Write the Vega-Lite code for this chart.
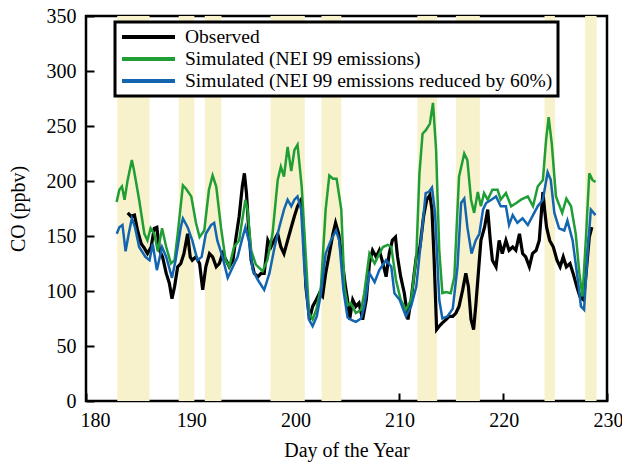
{
  "$schema": "https://vega.github.io/schema/vega-lite/v6.json",
  "width": 521,
  "height": 385,
  "autosize": {"type": "none"},
  "padding": {"left": 86, "top": 16, "right": 15, "bottom": 65},
  "background": "white",
  "config": {
    "font": "Liberation Serif",
    "view": {"stroke": "black", "strokeWidth": 2.5},
    "axis": {
      "grid": false,
      "domain": false,
      "ticks": true,
      "tickColor": "black",
      "tickWidth": 2,
      "tickSize": -8,
      "labelFont": "Liberation Serif",
      "labelFontSize": 20,
      "labelColor": "black",
      "titleFont": "Liberation Serif",
      "titleFontSize": 20,
      "titleFontWeight": "normal",
      "titleColor": "black"
    }
  },
  "datasets": {
    "bands": [
      {"start": 183.0, "end": 186.1},
      {"start": 188.9, "end": 190.4},
      {"start": 191.4, "end": 193.0},
      {"start": 197.7, "end": 201.0},
      {"start": 202.6, "end": 204.5},
      {"start": 211.8, "end": 213.7},
      {"start": 215.5, "end": 217.8},
      {"start": 224.0, "end": 225.0},
      {"start": 227.9, "end": 229.0}
    ],
    "observed": [
      {"series": "Observed", "day": 184.0, "co": 171}, {"series": "Observed", "day": 184.3, "co": 168},
      {"series": "Observed", "day": 184.65, "co": 169}, {"series": "Observed", "day": 184.95, "co": 155},
      {"series": "Observed", "day": 185.3, "co": 143}, {"series": "Observed", "day": 185.6, "co": 139},
      {"series": "Observed", "day": 185.9, "co": 134}, {"series": "Observed", "day": 186.25, "co": 140},
      {"series": "Observed", "day": 186.55, "co": 157}, {"series": "Observed", "day": 186.8, "co": 158},
      {"series": "Observed", "day": 187.05, "co": 137}, {"series": "Observed", "day": 187.35, "co": 131},
      {"series": "Observed", "day": 187.7, "co": 116}, {"series": "Observed", "day": 188.0, "co": 107},
      {"series": "Observed", "day": 188.25, "co": 93}, {"series": "Observed", "day": 188.5, "co": 104},
      {"series": "Observed", "day": 188.8, "co": 122}, {"series": "Observed", "day": 189.1, "co": 125},
      {"series": "Observed", "day": 189.4, "co": 134}, {"series": "Observed", "day": 189.75, "co": 152},
      {"series": "Observed", "day": 190.0, "co": 131}, {"series": "Observed", "day": 190.2, "co": 128},
      {"series": "Observed", "day": 190.55, "co": 131}, {"series": "Observed", "day": 190.9, "co": 125},
      {"series": "Observed", "day": 191.2, "co": 101}, {"series": "Observed", "day": 191.5, "co": 122},
      {"series": "Observed", "day": 191.85, "co": 134}, {"series": "Observed", "day": 192.15, "co": 131},
      {"series": "Observed", "day": 192.5, "co": 122}, {"series": "Observed", "day": 192.8, "co": 125},
      {"series": "Observed", "day": 193.1, "co": 134}, {"series": "Observed", "day": 193.45, "co": 128},
      {"series": "Observed", "day": 193.75, "co": 122}, {"series": "Observed", "day": 194.1, "co": 128},
      {"series": "Observed", "day": 194.4, "co": 149}, {"series": "Observed", "day": 194.7, "co": 168},
      {"series": "Observed", "day": 195.0, "co": 195}, {"series": "Observed", "day": 195.2, "co": 207},
      {"series": "Observed", "day": 195.4, "co": 189}, {"series": "Observed", "day": 195.6, "co": 158},
      {"series": "Observed", "day": 195.85, "co": 128}, {"series": "Observed", "day": 196.15, "co": 116},
      {"series": "Observed", "day": 196.5, "co": 113}, {"series": "Observed", "day": 196.8, "co": 116},
      {"series": "Observed", "day": 197.1, "co": 116}, {"series": "Observed", "day": 197.45, "co": 146},
      {"series": "Observed", "day": 197.75, "co": 140}, {"series": "Observed", "day": 198.05, "co": 146},
      {"series": "Observed", "day": 198.4, "co": 152}, {"series": "Observed", "day": 198.7, "co": 140},
      {"series": "Observed", "day": 199.0, "co": 134}, {"series": "Observed", "day": 199.35, "co": 146},
      {"series": "Observed", "day": 199.7, "co": 158}, {"series": "Observed", "day": 200.0, "co": 168},
      {"series": "Observed", "day": 200.3, "co": 177}, {"series": "Observed", "day": 200.65, "co": 183},
      {"series": "Observed", "day": 200.85, "co": 158}, {"series": "Observed", "day": 201.1, "co": 104},
      {"series": "Observed", "day": 201.45, "co": 74}, {"series": "Observed", "day": 201.75, "co": 86},
      {"series": "Observed", "day": 202.1, "co": 92}, {"series": "Observed", "day": 202.4, "co": 98},
      {"series": "Observed", "day": 202.7, "co": 95}, {"series": "Observed", "day": 203.0, "co": 116},
      {"series": "Observed", "day": 203.35, "co": 134}, {"series": "Observed", "day": 203.7, "co": 152},
      {"series": "Observed", "day": 203.95, "co": 162}, {"series": "Observed", "day": 204.25, "co": 152},
      {"series": "Observed", "day": 204.55, "co": 131}, {"series": "Observed", "day": 204.9, "co": 104},
      {"series": "Observed", "day": 205.1, "co": 92}, {"series": "Observed", "day": 205.3, "co": 74},
      {"series": "Observed", "day": 205.6, "co": 92}, {"series": "Observed", "day": 205.9, "co": 86},
      {"series": "Observed", "day": 206.2, "co": 89}, {"series": "Observed", "day": 206.55, "co": 74},
      {"series": "Observed", "day": 206.9, "co": 92}, {"series": "Observed", "day": 207.2, "co": 125},
      {"series": "Observed", "day": 207.5, "co": 137}, {"series": "Observed", "day": 207.85, "co": 131},
      {"series": "Observed", "day": 208.15, "co": 137}, {"series": "Observed", "day": 208.5, "co": 125},
      {"series": "Observed", "day": 208.8, "co": 113}, {"series": "Observed", "day": 209.1, "co": 134},
      {"series": "Observed", "day": 209.4, "co": 146}, {"series": "Observed", "day": 209.7, "co": 149},
      {"series": "Observed", "day": 209.9, "co": 131}, {"series": "Observed", "day": 210.2, "co": 113},
      {"series": "Observed", "day": 210.55, "co": 98}, {"series": "Observed", "day": 210.9, "co": 74},
      {"series": "Observed", "day": 211.2, "co": 92}, {"series": "Observed", "day": 211.5, "co": 116},
      {"series": "Observed", "day": 211.7, "co": 131}, {"series": "Observed", "day": 212.05, "co": 140},
      {"series": "Observed", "day": 212.4, "co": 168}, {"series": "Observed", "day": 212.7, "co": 183},
      {"series": "Observed", "day": 213.0, "co": 187}, {"series": "Observed", "day": 213.2, "co": 174},
      {"series": "Observed", "day": 213.4, "co": 131}, {"series": "Observed", "day": 213.65, "co": 65},
      {"series": "Observed", "day": 213.9, "co": 68}, {"series": "Observed", "day": 214.2, "co": 71},
      {"series": "Observed", "day": 214.55, "co": 74}, {"series": "Observed", "day": 214.85, "co": 77},
      {"series": "Observed", "day": 215.2, "co": 77}, {"series": "Observed", "day": 215.5, "co": 80},
      {"series": "Observed", "day": 215.8, "co": 86}, {"series": "Observed", "day": 216.15, "co": 101},
      {"series": "Observed", "day": 216.45, "co": 116}, {"series": "Observed", "day": 216.7, "co": 104},
      {"series": "Observed", "day": 216.95, "co": 74}, {"series": "Observed", "day": 217.2, "co": 65},
      {"series": "Observed", "day": 217.4, "co": 86}, {"series": "Observed", "day": 217.7, "co": 122},
      {"series": "Observed", "day": 217.9, "co": 146}, {"series": "Observed", "day": 218.25, "co": 158},
      {"series": "Observed", "day": 218.55, "co": 174}, {"series": "Observed", "day": 218.8, "co": 146},
      {"series": "Observed", "day": 219.0, "co": 128}, {"series": "Observed", "day": 219.35, "co": 122},
      {"series": "Observed", "day": 219.65, "co": 146}, {"series": "Observed", "day": 219.95, "co": 134},
      {"series": "Observed", "day": 220.3, "co": 146}, {"series": "Observed", "day": 220.6, "co": 137},
      {"series": "Observed", "day": 220.95, "co": 140}, {"series": "Observed", "day": 221.25, "co": 137},
      {"series": "Observed", "day": 221.6, "co": 152}, {"series": "Observed", "day": 221.9, "co": 134},
      {"series": "Observed", "day": 222.2, "co": 131}, {"series": "Observed", "day": 222.55, "co": 122},
      {"series": "Observed", "day": 222.85, "co": 134}, {"series": "Observed", "day": 223.2, "co": 137},
      {"series": "Observed", "day": 223.5, "co": 146}, {"series": "Observed", "day": 223.85, "co": 190},
      {"series": "Observed", "day": 224.0, "co": 175}, {"series": "Observed", "day": 224.2, "co": 158},
      {"series": "Observed", "day": 224.5, "co": 146}, {"series": "Observed", "day": 224.85, "co": 140},
      {"series": "Observed", "day": 225.2, "co": 128}, {"series": "Observed", "day": 225.5, "co": 122},
      {"series": "Observed", "day": 225.8, "co": 131}, {"series": "Observed", "day": 226.1, "co": 122},
      {"series": "Observed", "day": 226.45, "co": 125}, {"series": "Observed", "day": 226.75, "co": 116},
      {"series": "Observed", "day": 227.1, "co": 104}, {"series": "Observed", "day": 227.4, "co": 95},
      {"series": "Observed", "day": 227.75, "co": 92}, {"series": "Observed", "day": 228.05, "co": 122},
      {"series": "Observed", "day": 228.3, "co": 149}, {"series": "Observed", "day": 228.55, "co": 158}
    ],
    "nei99": [
      {"series": "Simulated (NEI 99 emissions)", "day": 182.94, "co": 181}, {"series": "Simulated (NEI 99 emissions)", "day": 183.2, "co": 192},
      {"series": "Simulated (NEI 99 emissions)", "day": 183.45, "co": 195}, {"series": "Simulated (NEI 99 emissions)", "day": 183.7, "co": 183},
      {"series": "Simulated (NEI 99 emissions)", "day": 184.0, "co": 201}, {"series": "Simulated (NEI 99 emissions)", "day": 184.4, "co": 219},
      {"series": "Simulated (NEI 99 emissions)", "day": 184.6, "co": 210}, {"series": "Simulated (NEI 99 emissions)", "day": 185.1, "co": 183},
      {"series": "Simulated (NEI 99 emissions)", "day": 185.6, "co": 152}, {"series": "Simulated (NEI 99 emissions)", "day": 185.9, "co": 146},
      {"series": "Simulated (NEI 99 emissions)", "day": 186.2, "co": 157}, {"series": "Simulated (NEI 99 emissions)", "day": 186.55, "co": 152},
      {"series": "Simulated (NEI 99 emissions)", "day": 186.9, "co": 136}, {"series": "Simulated (NEI 99 emissions)", "day": 187.3, "co": 157},
      {"series": "Simulated (NEI 99 emissions)", "day": 187.7, "co": 140}, {"series": "Simulated (NEI 99 emissions)", "day": 188.15, "co": 125},
      {"series": "Simulated (NEI 99 emissions)", "day": 188.5, "co": 128}, {"series": "Simulated (NEI 99 emissions)", "day": 188.8, "co": 152},
      {"series": "Simulated (NEI 99 emissions)", "day": 189.3, "co": 196}, {"series": "Simulated (NEI 99 emissions)", "day": 189.6, "co": 193},
      {"series": "Simulated (NEI 99 emissions)", "day": 190.1, "co": 186}, {"series": "Simulated (NEI 99 emissions)", "day": 190.55, "co": 162},
      {"series": "Simulated (NEI 99 emissions)", "day": 190.9, "co": 149}, {"series": "Simulated (NEI 99 emissions)", "day": 191.35, "co": 155},
      {"series": "Simulated (NEI 99 emissions)", "day": 191.8, "co": 192}, {"series": "Simulated (NEI 99 emissions)", "day": 192.15, "co": 205},
      {"series": "Simulated (NEI 99 emissions)", "day": 192.5, "co": 195}, {"series": "Simulated (NEI 99 emissions)", "day": 192.95, "co": 158},
      {"series": "Simulated (NEI 99 emissions)", "day": 193.4, "co": 128}, {"series": "Simulated (NEI 99 emissions)", "day": 193.75, "co": 122},
      {"series": "Simulated (NEI 99 emissions)", "day": 194.2, "co": 140}, {"series": "Simulated (NEI 99 emissions)", "day": 194.7, "co": 146},
      {"series": "Simulated (NEI 99 emissions)", "day": 195.0, "co": 165}, {"series": "Simulated (NEI 99 emissions)", "day": 195.3, "co": 183},
      {"series": "Simulated (NEI 99 emissions)", "day": 195.5, "co": 174}, {"series": "Simulated (NEI 99 emissions)", "day": 195.85, "co": 137},
      {"series": "Simulated (NEI 99 emissions)", "day": 196.3, "co": 124}, {"series": "Simulated (NEI 99 emissions)", "day": 196.95, "co": 118},
      {"series": "Simulated (NEI 99 emissions)", "day": 197.4, "co": 128}, {"series": "Simulated (NEI 99 emissions)", "day": 197.9, "co": 152},
      {"series": "Simulated (NEI 99 emissions)", "day": 198.4, "co": 201}, {"series": "Simulated (NEI 99 emissions)", "day": 198.7, "co": 213},
      {"series": "Simulated (NEI 99 emissions)", "day": 199.0, "co": 204}, {"series": "Simulated (NEI 99 emissions)", "day": 199.35, "co": 231},
      {"series": "Simulated (NEI 99 emissions)", "day": 199.7, "co": 209}, {"series": "Simulated (NEI 99 emissions)", "day": 200.0, "co": 228},
      {"series": "Simulated (NEI 99 emissions)", "day": 200.3, "co": 233}, {"series": "Simulated (NEI 99 emissions)", "day": 200.7, "co": 195},
      {"series": "Simulated (NEI 99 emissions)", "day": 201.1, "co": 131}, {"series": "Simulated (NEI 99 emissions)", "day": 201.4, "co": 80},
      {"series": "Simulated (NEI 99 emissions)", "day": 201.75, "co": 74}, {"series": "Simulated (NEI 99 emissions)", "day": 202.1, "co": 83},
      {"series": "Simulated (NEI 99 emissions)", "day": 202.55, "co": 104}, {"series": "Simulated (NEI 99 emissions)", "day": 203.0, "co": 174},
      {"series": "Simulated (NEI 99 emissions)", "day": 203.35, "co": 205}, {"series": "Simulated (NEI 99 emissions)", "day": 203.7, "co": 202},
      {"series": "Simulated (NEI 99 emissions)", "day": 204.05, "co": 202}, {"series": "Simulated (NEI 99 emissions)", "day": 204.5, "co": 174},
      {"series": "Simulated (NEI 99 emissions)", "day": 204.8, "co": 104}, {"series": "Simulated (NEI 99 emissions)", "day": 205.1, "co": 87},
      {"series": "Simulated (NEI 99 emissions)", "day": 205.4, "co": 89}, {"series": "Simulated (NEI 99 emissions)", "day": 205.9, "co": 80},
      {"series": "Simulated (NEI 99 emissions)", "day": 206.4, "co": 83}, {"series": "Simulated (NEI 99 emissions)", "day": 206.7, "co": 98},
      {"series": "Simulated (NEI 99 emissions)", "day": 207.2, "co": 134}, {"series": "Simulated (NEI 99 emissions)", "day": 207.7, "co": 125},
      {"series": "Simulated (NEI 99 emissions)", "day": 208.0, "co": 131}, {"series": "Simulated (NEI 99 emissions)", "day": 208.5, "co": 140},
      {"series": "Simulated (NEI 99 emissions)", "day": 208.95, "co": 142}, {"series": "Simulated (NEI 99 emissions)", "day": 209.3, "co": 140},
      {"series": "Simulated (NEI 99 emissions)", "day": 209.75, "co": 110}, {"series": "Simulated (NEI 99 emissions)", "day": 210.2, "co": 92},
      {"series": "Simulated (NEI 99 emissions)", "day": 210.7, "co": 83}, {"series": "Simulated (NEI 99 emissions)", "day": 211.2, "co": 92},
      {"series": "Simulated (NEI 99 emissions)", "day": 211.7, "co": 131}, {"series": "Simulated (NEI 99 emissions)", "day": 212.0, "co": 207},
      {"series": "Simulated (NEI 99 emissions)", "day": 212.3, "co": 243}, {"series": "Simulated (NEI 99 emissions)", "day": 212.6, "co": 246},
      {"series": "Simulated (NEI 99 emissions)", "day": 213.0, "co": 252}, {"series": "Simulated (NEI 99 emissions)", "day": 213.3, "co": 271},
      {"series": "Simulated (NEI 99 emissions)", "day": 213.6, "co": 228}, {"series": "Simulated (NEI 99 emissions)", "day": 213.9, "co": 137},
      {"series": "Simulated (NEI 99 emissions)", "day": 214.2, "co": 98}, {"series": "Simulated (NEI 99 emissions)", "day": 214.55, "co": 99},
      {"series": "Simulated (NEI 99 emissions)", "day": 215.0, "co": 98}, {"series": "Simulated (NEI 99 emissions)", "day": 215.35, "co": 113},
      {"series": "Simulated (NEI 99 emissions)", "day": 215.8, "co": 204}, {"series": "Simulated (NEI 99 emissions)", "day": 216.3, "co": 225},
      {"series": "Simulated (NEI 99 emissions)", "day": 216.6, "co": 219}, {"series": "Simulated (NEI 99 emissions)", "day": 216.95, "co": 183},
      {"series": "Simulated (NEI 99 emissions)", "day": 217.25, "co": 171}, {"series": "Simulated (NEI 99 emissions)", "day": 217.6, "co": 190},
      {"series": "Simulated (NEI 99 emissions)", "day": 217.9, "co": 177}, {"series": "Simulated (NEI 99 emissions)", "day": 218.2, "co": 189},
      {"series": "Simulated (NEI 99 emissions)", "day": 218.55, "co": 183}, {"series": "Simulated (NEI 99 emissions)", "day": 219.0, "co": 192},
      {"series": "Simulated (NEI 99 emissions)", "day": 219.5, "co": 192}, {"series": "Simulated (NEI 99 emissions)", "day": 219.8, "co": 183},
      {"series": "Simulated (NEI 99 emissions)", "day": 220.3, "co": 189}, {"series": "Simulated (NEI 99 emissions)", "day": 220.8, "co": 177},
      {"series": "Simulated (NEI 99 emissions)", "day": 221.3, "co": 180}, {"series": "Simulated (NEI 99 emissions)", "day": 221.75, "co": 183},
      {"series": "Simulated (NEI 99 emissions)", "day": 222.4, "co": 186}, {"series": "Simulated (NEI 99 emissions)", "day": 222.9, "co": 177},
      {"series": "Simulated (NEI 99 emissions)", "day": 223.35, "co": 195}, {"series": "Simulated (NEI 99 emissions)", "day": 223.85, "co": 201},
      {"series": "Simulated (NEI 99 emissions)", "day": 224.15, "co": 237}, {"series": "Simulated (NEI 99 emissions)", "day": 224.4, "co": 258},
      {"series": "Simulated (NEI 99 emissions)", "day": 224.7, "co": 234}, {"series": "Simulated (NEI 99 emissions)", "day": 225.1, "co": 186},
      {"series": "Simulated (NEI 99 emissions)", "day": 225.7, "co": 171}, {"series": "Simulated (NEI 99 emissions)", "day": 226.1, "co": 184},
      {"series": "Simulated (NEI 99 emissions)", "day": 226.55, "co": 177}, {"series": "Simulated (NEI 99 emissions)", "day": 227.0, "co": 152},
      {"series": "Simulated (NEI 99 emissions)", "day": 227.35, "co": 116}, {"series": "Simulated (NEI 99 emissions)", "day": 227.65, "co": 95},
      {"series": "Simulated (NEI 99 emissions)", "day": 228.0, "co": 152}, {"series": "Simulated (NEI 99 emissions)", "day": 228.3, "co": 207},
      {"series": "Simulated (NEI 99 emissions)", "day": 228.6, "co": 201}, {"series": "Simulated (NEI 99 emissions)", "day": 228.9, "co": 199}
    ],
    "nei99cut": [
      {"series": "Simulated (NEI 99 emissions reduced by 60%)", "day": 182.95, "co": 152}, {"series": "Simulated (NEI 99 emissions reduced by 60%)", "day": 183.2, "co": 158},
      {"series": "Simulated (NEI 99 emissions reduced by 60%)", "day": 183.5, "co": 160}, {"series": "Simulated (NEI 99 emissions reduced by 60%)", "day": 183.8, "co": 136},
      {"series": "Simulated (NEI 99 emissions reduced by 60%)", "day": 184.1, "co": 152}, {"series": "Simulated (NEI 99 emissions reduced by 60%)", "day": 184.4, "co": 166},
      {"series": "Simulated (NEI 99 emissions reduced by 60%)", "day": 184.7, "co": 158}, {"series": "Simulated (NEI 99 emissions reduced by 60%)", "day": 185.1, "co": 140},
      {"series": "Simulated (NEI 99 emissions reduced by 60%)", "day": 185.7, "co": 131}, {"series": "Simulated (NEI 99 emissions reduced by 60%)", "day": 186.1, "co": 128},
      {"series": "Simulated (NEI 99 emissions reduced by 60%)", "day": 186.4, "co": 143}, {"series": "Simulated (NEI 99 emissions reduced by 60%)", "day": 186.8, "co": 119},
      {"series": "Simulated (NEI 99 emissions reduced by 60%)", "day": 187.3, "co": 140}, {"series": "Simulated (NEI 99 emissions reduced by 60%)", "day": 187.7, "co": 131},
      {"series": "Simulated (NEI 99 emissions reduced by 60%)", "day": 188.25, "co": 112}, {"series": "Simulated (NEI 99 emissions reduced by 60%)", "day": 188.6, "co": 128},
      {"series": "Simulated (NEI 99 emissions reduced by 60%)", "day": 189.1, "co": 158}, {"series": "Simulated (NEI 99 emissions reduced by 60%)", "day": 189.3, "co": 166},
      {"series": "Simulated (NEI 99 emissions reduced by 60%)", "day": 189.75, "co": 158}, {"series": "Simulated (NEI 99 emissions reduced by 60%)", "day": 190.2, "co": 146},
      {"series": "Simulated (NEI 99 emissions reduced by 60%)", "day": 190.7, "co": 128}, {"series": "Simulated (NEI 99 emissions reduced by 60%)", "day": 191.1, "co": 131},
      {"series": "Simulated (NEI 99 emissions reduced by 60%)", "day": 191.5, "co": 152}, {"series": "Simulated (NEI 99 emissions reduced by 60%)", "day": 192.0, "co": 160},
      {"series": "Simulated (NEI 99 emissions reduced by 60%)", "day": 192.3, "co": 162}, {"series": "Simulated (NEI 99 emissions reduced by 60%)", "day": 192.6, "co": 146},
      {"series": "Simulated (NEI 99 emissions reduced by 60%)", "day": 193.1, "co": 131}, {"series": "Simulated (NEI 99 emissions reduced by 60%)", "day": 193.6, "co": 112},
      {"series": "Simulated (NEI 99 emissions reduced by 60%)", "day": 194.1, "co": 122}, {"series": "Simulated (NEI 99 emissions reduced by 60%)", "day": 194.55, "co": 131},
      {"series": "Simulated (NEI 99 emissions reduced by 60%)", "day": 194.95, "co": 146}, {"series": "Simulated (NEI 99 emissions reduced by 60%)", "day": 195.3, "co": 158},
      {"series": "Simulated (NEI 99 emissions reduced by 60%)", "day": 195.7, "co": 143}, {"series": "Simulated (NEI 99 emissions reduced by 60%)", "day": 196.0, "co": 119},
      {"series": "Simulated (NEI 99 emissions reduced by 60%)", "day": 196.5, "co": 110}, {"series": "Simulated (NEI 99 emissions reduced by 60%)", "day": 197.1, "co": 101},
      {"series": "Simulated (NEI 99 emissions reduced by 60%)", "day": 197.6, "co": 116}, {"series": "Simulated (NEI 99 emissions reduced by 60%)", "day": 198.1, "co": 140},
      {"series": "Simulated (NEI 99 emissions reduced by 60%)", "day": 198.55, "co": 158}, {"series": "Simulated (NEI 99 emissions reduced by 60%)", "day": 199.0, "co": 174},
      {"series": "Simulated (NEI 99 emissions reduced by 60%)", "day": 199.35, "co": 183}, {"series": "Simulated (NEI 99 emissions reduced by 60%)", "day": 199.7, "co": 177},
      {"series": "Simulated (NEI 99 emissions reduced by 60%)", "day": 200.0, "co": 183}, {"series": "Simulated (NEI 99 emissions reduced by 60%)", "day": 200.3, "co": 186},
      {"series": "Simulated (NEI 99 emissions reduced by 60%)", "day": 200.65, "co": 174}, {"series": "Simulated (NEI 99 emissions reduced by 60%)", "day": 200.95, "co": 122},
      {"series": "Simulated (NEI 99 emissions reduced by 60%)", "day": 201.4, "co": 74}, {"series": "Simulated (NEI 99 emissions reduced by 60%)", "day": 201.75, "co": 68},
      {"series": "Simulated (NEI 99 emissions reduced by 60%)", "day": 202.15, "co": 77}, {"series": "Simulated (NEI 99 emissions reduced by 60%)", "day": 202.55, "co": 98},
      {"series": "Simulated (NEI 99 emissions reduced by 60%)", "day": 203.0, "co": 134}, {"series": "Simulated (NEI 99 emissions reduced by 60%)", "day": 203.5, "co": 146},
      {"series": "Simulated (NEI 99 emissions reduced by 60%)", "day": 204.0, "co": 155}, {"series": "Simulated (NEI 99 emissions reduced by 60%)", "day": 204.3, "co": 146},
      {"series": "Simulated (NEI 99 emissions reduced by 60%)", "day": 204.7, "co": 101}, {"series": "Simulated (NEI 99 emissions reduced by 60%)", "day": 205.1, "co": 76},
      {"series": "Simulated (NEI 99 emissions reduced by 60%)", "day": 205.4, "co": 74}, {"series": "Simulated (NEI 99 emissions reduced by 60%)", "day": 205.9, "co": 72},
      {"series": "Simulated (NEI 99 emissions reduced by 60%)", "day": 206.4, "co": 75}, {"series": "Simulated (NEI 99 emissions reduced by 60%)", "day": 206.7, "co": 86},
      {"series": "Simulated (NEI 99 emissions reduced by 60%)", "day": 207.2, "co": 116}, {"series": "Simulated (NEI 99 emissions reduced by 60%)", "day": 207.7, "co": 108},
      {"series": "Simulated (NEI 99 emissions reduced by 60%)", "day": 208.15, "co": 119}, {"series": "Simulated (NEI 99 emissions reduced by 60%)", "day": 208.8, "co": 128},
      {"series": "Simulated (NEI 99 emissions reduced by 60%)", "day": 209.3, "co": 122}, {"series": "Simulated (NEI 99 emissions reduced by 60%)", "day": 209.6, "co": 98},
      {"series": "Simulated (NEI 99 emissions reduced by 60%)", "day": 210.1, "co": 92}, {"series": "Simulated (NEI 99 emissions reduced by 60%)", "day": 210.7, "co": 77},
      {"series": "Simulated (NEI 99 emissions reduced by 60%)", "day": 211.2, "co": 86}, {"series": "Simulated (NEI 99 emissions reduced by 60%)", "day": 211.7, "co": 104},
      {"series": "Simulated (NEI 99 emissions reduced by 60%)", "day": 212.15, "co": 146}, {"series": "Simulated (NEI 99 emissions reduced by 60%)", "day": 212.6, "co": 189},
      {"series": "Simulated (NEI 99 emissions reduced by 60%)", "day": 212.9, "co": 190}, {"series": "Simulated (NEI 99 emissions reduced by 60%)", "day": 213.2, "co": 194},
      {"series": "Simulated (NEI 99 emissions reduced by 60%)", "day": 213.5, "co": 171}, {"series": "Simulated (NEI 99 emissions reduced by 60%)", "day": 213.9, "co": 92},
      {"series": "Simulated (NEI 99 emissions reduced by 60%)", "day": 214.2, "co": 75}, {"series": "Simulated (NEI 99 emissions reduced by 60%)", "day": 214.7, "co": 77},
      {"series": "Simulated (NEI 99 emissions reduced by 60%)", "day": 215.2, "co": 84}, {"series": "Simulated (NEI 99 emissions reduced by 60%)", "day": 215.65, "co": 122},
      {"series": "Simulated (NEI 99 emissions reduced by 60%)", "day": 216.0, "co": 180}, {"series": "Simulated (NEI 99 emissions reduced by 60%)", "day": 216.3, "co": 184},
      {"series": "Simulated (NEI 99 emissions reduced by 60%)", "day": 216.6, "co": 158}, {"series": "Simulated (NEI 99 emissions reduced by 60%)", "day": 217.0, "co": 134},
      {"series": "Simulated (NEI 99 emissions reduced by 60%)", "day": 217.4, "co": 146}, {"series": "Simulated (NEI 99 emissions reduced by 60%)", "day": 217.75, "co": 152},
      {"series": "Simulated (NEI 99 emissions reduced by 60%)", "day": 218.1, "co": 174}, {"series": "Simulated (NEI 99 emissions reduced by 60%)", "day": 218.4, "co": 180},
      {"series": "Simulated (NEI 99 emissions reduced by 60%)", "day": 218.9, "co": 183}, {"series": "Simulated (NEI 99 emissions reduced by 60%)", "day": 219.35, "co": 186},
      {"series": "Simulated (NEI 99 emissions reduced by 60%)", "day": 219.8, "co": 177}, {"series": "Simulated (NEI 99 emissions reduced by 60%)", "day": 220.3, "co": 177},
      {"series": "Simulated (NEI 99 emissions reduced by 60%)", "day": 220.6, "co": 160}, {"series": "Simulated (NEI 99 emissions reduced by 60%)", "day": 220.95, "co": 169},
      {"series": "Simulated (NEI 99 emissions reduced by 60%)", "day": 221.4, "co": 162}, {"series": "Simulated (NEI 99 emissions reduced by 60%)", "day": 221.9, "co": 166},
      {"series": "Simulated (NEI 99 emissions reduced by 60%)", "day": 222.4, "co": 160}, {"series": "Simulated (NEI 99 emissions reduced by 60%)", "day": 222.9, "co": 169},
      {"series": "Simulated (NEI 99 emissions reduced by 60%)", "day": 223.35, "co": 177}, {"series": "Simulated (NEI 99 emissions reduced by 60%)", "day": 223.85, "co": 183},
      {"series": "Simulated (NEI 99 emissions reduced by 60%)", "day": 224.3, "co": 208}, {"series": "Simulated (NEI 99 emissions reduced by 60%)", "day": 224.6, "co": 201},
      {"series": "Simulated (NEI 99 emissions reduced by 60%)", "day": 224.95, "co": 171}, {"series": "Simulated (NEI 99 emissions reduced by 60%)", "day": 225.4, "co": 157},
      {"series": "Simulated (NEI 99 emissions reduced by 60%)", "day": 225.9, "co": 155}, {"series": "Simulated (NEI 99 emissions reduced by 60%)", "day": 226.2, "co": 164},
      {"series": "Simulated (NEI 99 emissions reduced by 60%)", "day": 226.7, "co": 146}, {"series": "Simulated (NEI 99 emissions reduced by 60%)", "day": 227.2, "co": 110},
      {"series": "Simulated (NEI 99 emissions reduced by 60%)", "day": 227.5, "co": 86}, {"series": "Simulated (NEI 99 emissions reduced by 60%)", "day": 227.8, "co": 83},
      {"series": "Simulated (NEI 99 emissions reduced by 60%)", "day": 228.15, "co": 137}, {"series": "Simulated (NEI 99 emissions reduced by 60%)", "day": 228.45, "co": 174},
      {"series": "Simulated (NEI 99 emissions reduced by 60%)", "day": 228.9, "co": 169}
    ]
  },
  "layer": [
    {
      "data": {"name": "bands"},
      "mark": {"type": "rect", "color": "#f7f2cc"},
      "encoding": {
        "x": {
          "field": "start", "type": "quantitative",
          "scale": {"domain": [180, 230], "nice": false},
          "axis": {
            "title": "Day of the Year",
            "values": [180, 190, 200, 210, 220, 230],
            "labelFlush": false,
            "labelFont": "Liberation Serif",
            "labelOffset": {"expr": "datum.value == 180 ? 9 : 1"},
            "labelPadding": 17,
            "titlePadding": 10
          }
        },
        "x2": {"field": "end"}
      }
    },
    {
      "data": {"name": "observed"},
      "mark": {"type": "line", "strokeWidth": 3.2},
      "encoding": {
        "x": {"field": "day", "type": "quantitative"},
        "y": {
          "field": "co", "type": "quantitative",
          "scale": {"domain": [0, 350], "nice": false},
          "axis": {
            "title": "CO (ppbv)",
            "values": [0, 50, 100, 150, 200, 250, 300, 350],
            "labelFont": "Liberation Serif",
            "labelPadding": 18,
            "titlePadding": 18
          }
        },
        "color": {
          "field": "series", "type": "nominal",
          "scale": {
            "domain": ["Observed", "Simulated (NEI 99 emissions)", "Simulated (NEI 99 emissions reduced by 60%)"],
            "range": ["#000000", "#1f9e35", "#1465af"]
          },
          "legend": {
            "title": null, "orient": "none", "legendX": 29, "legendY": 6,
            "symbolType": "stroke", "symbolSize": 2809, "symbolStrokeWidth": 4,
            "clipHeight": 20, "rowPadding": 2, "padding": 5, "labelOffset": 8, "labelLimit": 0,
            "labelFont": "Liberation Serif", "labelFontSize": 19.5, "labelColor": "black",
            "fillColor": "white", "strokeColor": "black",
            "encode": {"legend": {"update": {"strokeWidth": {"value": 3}}}}
          }
        }
      }
    },
    {
      "data": {"name": "nei99"},
      "mark": {"type": "line", "strokeWidth": 2.5},
      "encoding": {
        "x": {"field": "day", "type": "quantitative"},
        "y": {"field": "co", "type": "quantitative"},
        "color": {
          "field": "series", "type": "nominal",
          "scale": {
            "domain": ["Observed", "Simulated (NEI 99 emissions)", "Simulated (NEI 99 emissions reduced by 60%)"],
            "range": ["#000000", "#1f9e35", "#1465af"]
          },
          "legend": {
            "title": null, "orient": "none", "legendX": 29, "legendY": 6,
            "symbolType": "stroke", "symbolSize": 2809, "symbolStrokeWidth": 4,
            "clipHeight": 20, "rowPadding": 2, "padding": 5, "labelOffset": 8, "labelLimit": 0,
            "labelFont": "Liberation Serif", "labelFontSize": 19.5, "labelColor": "black",
            "fillColor": "white", "strokeColor": "black",
            "encode": {"legend": {"update": {"strokeWidth": {"value": 3}}}}
          }
        }
      }
    },
    {
      "data": {"name": "nei99cut"},
      "mark": {"type": "line", "strokeWidth": 2.5},
      "encoding": {
        "x": {"field": "day", "type": "quantitative"},
        "y": {"field": "co", "type": "quantitative"},
        "color": {
          "field": "series", "type": "nominal",
          "scale": {
            "domain": ["Observed", "Simulated (NEI 99 emissions)", "Simulated (NEI 99 emissions reduced by 60%)"],
            "range": ["#000000", "#1f9e35", "#1465af"]
          },
          "legend": {
            "title": null, "orient": "none", "legendX": 29, "legendY": 6,
            "symbolType": "stroke", "symbolSize": 2809, "symbolStrokeWidth": 4,
            "clipHeight": 20, "rowPadding": 2, "padding": 5, "labelOffset": 8, "labelLimit": 0,
            "labelFont": "Liberation Serif", "labelFontSize": 19.5, "labelColor": "black",
            "fillColor": "white", "strokeColor": "black",
            "encode": {"legend": {"update": {"strokeWidth": {"value": 3}}}}
          }
        }
      }
    }
  ]
}
